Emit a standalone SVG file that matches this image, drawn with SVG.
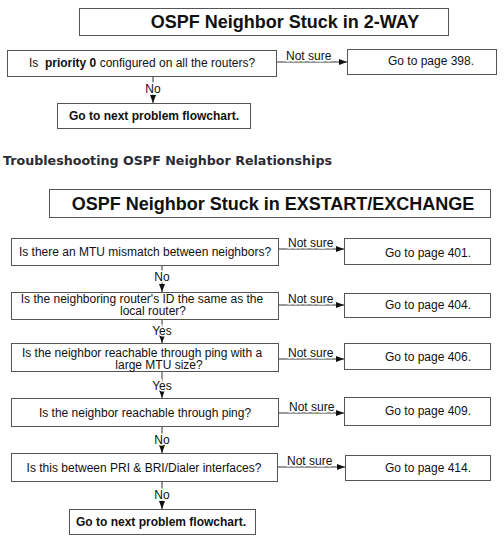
<svg xmlns="http://www.w3.org/2000/svg" width="504" height="538" viewBox="0 0 504 538">
<defs>
<marker id="ah" viewBox="0 0 8 6" refX="8" refY="3" markerWidth="8" markerHeight="6" markerUnits="userSpaceOnUse" orient="auto">
<path d="M0,0 L8,3 L0,6 Z" fill="#111"/>
</marker>
</defs>
<style>
.box{fill:#fff;stroke:#555;stroke-width:1}
.t{font-family:"Liberation Sans",Arial,sans-serif;font-size:12px;fill:#111}
.c{text-anchor:middle}
.b{font-weight:bold}
.title{font-family:"Liberation Sans",Arial,sans-serif;font-size:18px;font-weight:bold;fill:#111;text-anchor:middle}
.ln{fill:none;stroke:#333;stroke-width:1}
.lbl{font-family:"Liberation Sans",Arial,sans-serif;font-size:12px;fill:#111;paint-order:stroke;stroke:#fff;stroke-width:3px}
.hd{font-family:"DejaVu Sans",Verdana,sans-serif;font-size:12px;font-weight:bold;fill:#2b2b35}
</style>
<rect width="504" height="538" fill="#fff"/>

<g id="connectors">
<line class="ln" x1="276" y1="62" x2="347" y2="62" marker-end="url(#ah)"/>
<line class="ln" x1="153" y1="77" x2="153" y2="103" marker-end="url(#ah)"/>
<line class="ln" x1="278" y1="249" x2="344" y2="249" marker-end="url(#ah)"/>
<line class="ln" x1="162" y1="266" x2="162" y2="292" marker-end="url(#ah)"/>
<line class="ln" x1="278" y1="305" x2="344" y2="305" marker-end="url(#ah)"/>
<line class="ln" x1="162" y1="319" x2="162" y2="343" marker-end="url(#ah)"/>
<line class="ln" x1="278" y1="359" x2="344" y2="359" marker-end="url(#ah)"/>
<line class="ln" x1="162" y1="371" x2="162" y2="398" marker-end="url(#ah)"/>
<line class="ln" x1="278" y1="413" x2="344" y2="413" marker-end="url(#ah)"/>
<line class="ln" x1="162" y1="427" x2="162" y2="453" marker-end="url(#ah)"/>
<line class="ln" x1="277" y1="467" x2="345" y2="467" marker-end="url(#ah)"/>
<line class="ln" x1="162" y1="481" x2="162" y2="509" marker-end="url(#ah)"/>
<text class="lbl" x="286" y="60">Not sure</text>
<text class="lbl" x="153" y="93" text-anchor="middle">No</text>
<text class="lbl" x="288" y="247">Not sure</text>
<text class="lbl" x="162" y="281" text-anchor="middle">No</text>
<text class="lbl" x="288" y="303">Not sure</text>
<text class="lbl" x="162" y="335" text-anchor="middle">Yes</text>
<text class="lbl" x="288" y="357">Not sure</text>
<text class="lbl" x="162" y="390" text-anchor="middle">Yes</text>
<text class="lbl" x="289" y="411">Not sure</text>
<text class="lbl" x="162" y="444" text-anchor="middle">No</text>
<text class="lbl" x="287" y="465">Not sure</text>
<text class="lbl" x="162" y="499" text-anchor="middle">No</text>
</g>

<g id="title1">
<rect class="box" x="79.5" y="8.5" width="369" height="27"/>
<text class="title" x="285" y="28">OSPF Neighbor Stuck in 2-WAY</text>
</g>
<g id="q0">
<rect class="box" x="7.5" y="50.5" width="269" height="26"/>
<text class="t c" x="142" y="67" xml:space="preserve">Is  <tspan class="b">priority 0</tspan> configured on all the routers?</text>
</g>
<g id="p398">
<rect class="box" x="347.5" y="49.5" width="149" height="25"/>
<text class="t c" x="431" y="65">Go to page 398.</text>
</g>
<g id="next1">
<rect class="box" x="57.5" y="103.5" width="193" height="25"/>
<text class="t c b" x="154" y="120">Go to next problem flowchart.</text>
</g>

<g id="heading">
<text class="hd" x="3" y="165" textLength="329" lengthAdjust="spacingAndGlyphs">Troubleshooting OSPF Neighbor Relationships</text>
</g>

<g id="title2">
<rect class="box" x="49.5" y="189.5" width="441" height="28"/>
<text class="title" x="273" y="210">OSPF Neighbor Stuck in EXSTART/EXCHANGE</text>
</g>
<g id="q1">
<rect class="box" x="11.5" y="238.5" width="267" height="27"/>
<text class="t c" x="145" y="256">Is there an MTU mismatch between neighbors?</text>
</g>
<g id="p401">
<rect class="box" x="344.5" y="238.5" width="146" height="26"/>
<text class="t c" x="428" y="257">Go to page 401.</text>
</g>
<g id="q2">
<rect class="box" x="11.5" y="292.5" width="267" height="27"/>
<text class="t c" x="142" y="303">Is the neighboring router's ID the same as the</text>
<text class="t c" x="153" y="315">local router?</text>
</g>
<g id="p404">
<rect class="box" x="344.5" y="293.5" width="146" height="24"/>
<text class="t c" x="428" y="309">Go to page 404.</text>
</g>
<g id="q3">
<rect class="box" x="11.5" y="343.5" width="267" height="28"/>
<text class="t c" x="142" y="357">Is the neighbor reachable through ping with a</text>
<text class="t c" x="159" y="369">large MTU size?</text>
</g>
<g id="p406">
<rect class="box" x="344.5" y="343.5" width="146" height="26"/>
<text class="t c" x="428" y="361">Go to page 406.</text>
</g>
<g id="q4">
<rect class="box" x="11.5" y="398.5" width="267" height="28"/>
<text class="t c" x="145" y="417">Is the neighbor reachable through ping?</text>
</g>
<g id="p409">
<rect class="box" x="344.5" y="397.5" width="146" height="28"/>
<text class="t c" x="428" y="415">Go to page 409.</text>
</g>
<g id="q5">
<rect class="box" x="11.5" y="453.5" width="266" height="28"/>
<text class="t c" x="144" y="472">Is this between PRI &amp; BRI/Dialer interfaces?</text>
</g>
<g id="p414">
<rect class="box" x="345.5" y="455.5" width="145" height="25"/>
<text class="t c" x="428" y="472">Go to page 414.</text>
</g>
<g id="next2">
<rect class="box" x="69.5" y="509.5" width="186" height="25"/>
<text class="t c b" x="161" y="526">Go to next problem flowchart.</text>
</g>
</svg>
